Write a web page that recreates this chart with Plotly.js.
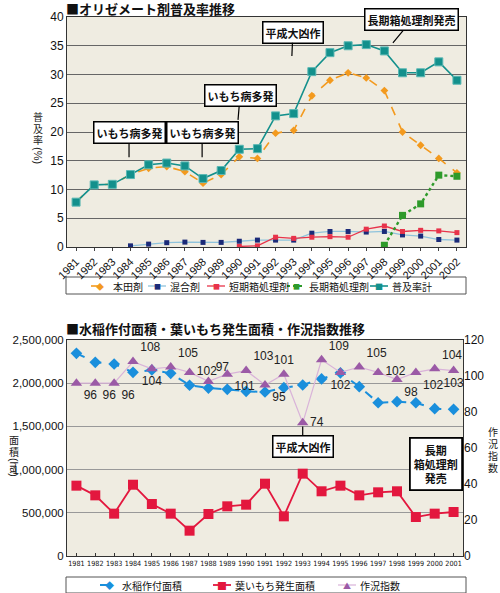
<!DOCTYPE html>
<html>
<head>
<meta charset="utf-8">
<script src="https://cdn.plot.ly/plotly-3.0.1.min.js"></script>
<style>html,body{margin:0;padding:0;background:#fff;}#chart{width:500px;height:593px;}</style>
</head>
<body>
<div id="chart"></div>
<script>
// ---- Top chart data (オリゼメート剤普及率, %) ----
const years1 = ['1981','1982','1983','1984','1985','1986','1987','1988','1989','1990','1991','1992','1993','1994','1995','1996','1997','1998','1999','2000','2001','2002'];
const honden = [7.8,10.8,10.9,12.6,13.7,14.0,13.1,11.1,12.6,15.7,15.4,19.8,20.3,26.3,29.0,30.3,29.4,27.2,20.0,17.7,15.4,12.9];
const kongou = [null,null,null,0.2,0.5,0.75,0.85,0.8,0.8,1.0,1.2,1.2,1.2,2.4,2.7,2.7,2.6,2.7,2.1,1.9,1.3,1.2];
const tanki  = [null,null,null,null,null,null,null,null,null,0.1,0.2,1.7,1.5,1.7,1.8,1.7,3.1,3.65,2.7,2.9,2.8,2.5];
const chouki = [null,null,null,null,null,null,null,null,null,null,null,null,null,null,null,null,null,0.3,5.5,7.5,12.5,12.3];
const total  = [7.8,10.8,10.9,12.6,14.3,14.6,14.1,11.9,13.3,17.0,17.1,22.8,23.2,30.5,33.8,35.0,35.2,34.1,30.3,30.3,32.2,29.0];
const names1 = ['本田剤','混合剤','短期箱処理剤','長期箱処理剤','普及率計'];

// ---- Bottom chart data ----
const years2 = ['1981','1982','1983','1984','1985','1986','1987','1988','1989','1990','1991','1992','1993','1994','1995','1996','1997','1998','1999','2000','2001'];
const plantedArea = [2346000,2242000,2222000,2126000,2153000,2114000,1976000,1944000,1929000,1906000,1898000,1948000,1979000,2049000,2120000,1960000,1774000,1786000,1774000,1705000,1698000];
const blastArea   = [814000,702000,490000,825000,602000,490000,293000,486000,575000,594000,837000,459000,953000,749000,814000,702000,737000,749000,451000,490000,509000];
const cropIndex   = [96,96,96,108,104,105,102,97,101,103,95,101,74,109,102,105,102,98,102,104,103];
const names2 = ['水稲作付面積','葉いもち発生面積','作況指数'];

// ---- styles ----
const indexLabelPos = ['bottom right','bottom right','bottom right','top right','bottom center','top right','middle right','top right','bottom right','top right','bottom right','top center','middle right','top right','bottom center','top right','middle right','bottom right','bottom right','top right','bottom center'];
const style1 = [
  {color:'#f39a1e', line:'#f39a1e', dash:'dash', width:1.6, sym:'diamond', glyph:'◆', size:6, gsize:8, mline:null},
  {color:'#1b2a78', line:'#8fc3dc', dash:'solid', width:1.3, sym:'square', glyph:'■', size:5, gsize:7, mline:null},
  {color:'#e8334a', line:'#e8334a', dash:'solid', width:1.3, sym:'square', glyph:'■', size:5, gsize:7, mline:null},
  {color:'#2e9a2a', line:'#2e9a2a', dash:'dot', width:2.4, sym:'square', glyph:'■', size:7, gsize:7, mline:null},
  {color:'#13908c', line:'#13908c', dash:'solid', width:1.6, sym:'square', glyph:'■', size:8, gsize:8, mline:{color:'#5bb8b4', width:1}}
];
const style2 = [
  {color:'#1a8fdc', line:'#1a8fdc', dash:'dash', width:2, sym:'diamond', glyph:'◆', size:9, gsize:9},
  {color:'#e3173e', line:'#e3173e', dash:'solid', width:1.8, sym:'square', glyph:'■', size:10, gsize:10},
  {color:'#9b5aa6', line:'#d9b3d9', dash:'solid', width:1.2, sym:'triangle-up', glyph:'▲', size:10, gsize:8}
];
const legend1X = [91,148,207,287,370], legend1Y = 286;
const legend2X = [100,213,338], legend2Y = 585;

const FONT = 'Liberation Sans, Arial, Noto Sans CJK JP, sans-serif';
const CJK = 'Noto Sans CJK JP';
const W = 500, H = 593;
const px = v => v / W, py = v => 1 - v / H;

const series1 = [honden, kongou, tanki, chouki, total];
const traces = series1.map((ys, i) => ({
  x: years1, y: ys, name: names1[i], type:'scatter', mode:'lines+markers', xaxis:'x', yaxis:'y', showlegend:false,
  line:{color:style1[i].line, width:style1[i].width, dash:style1[i].dash},
  marker:Object.assign({symbol:style1[i].sym, size:style1[i].size, color:style1[i].color}, style1[i].mline ? {line:style1[i].mline} : {})
}));
traces.push(
  {x: years2, y: plantedArea, name: names2[0], type:'scatter', mode:'lines+markers', xaxis:'x2', yaxis:'y2', showlegend:false,
   line:{color:style2[0].line, width:style2[0].width, dash:style2[0].dash}, marker:{symbol:style2[0].sym, size:style2[0].size, color:style2[0].color}},
  {x: years2, y: blastArea, name: names2[1], type:'scatter', mode:'lines+markers', xaxis:'x2', yaxis:'y2', showlegend:false,
   line:{color:style2[1].line, width:style2[1].width, dash:style2[1].dash}, marker:{symbol:style2[1].sym, size:style2[1].size, color:style2[1].color}},
  {x: years2, y: cropIndex, name: names2[2], type:'scatter', mode:'lines+markers+text', xaxis:'x2', yaxis:'y3', showlegend:false,
   text: cropIndex.map(String), textposition: indexLabelPos, textfont:{size:12, color:'#222'},
   line:{color:style2[2].line, width:style2[2].width, dash:style2[2].dash}, marker:{symbol:style2[2].sym, size:style2[2].size, color:style2[2].color}}
);

function callout(text, x, y, xref, yref, ax, ay) {
  return {text:'<b>'+text+'</b>', x:x, y:y, xref:xref, yref:yref, ax:ax, ay:ay,
    showarrow:true, arrowhead:0, arrowwidth:1.2, arrowcolor:'#000',
    bgcolor:'#fff', bordercolor:'#000', borderwidth:1.5, borderpad:2,
    font:{size:11, color:'#111', family:CJK}};
}
// paper-positioned text, centred on (x, y) pixels
function ptext(text, x, y, font, extra) {
  return Object.assign({text:text, xref:'paper', yref:'paper', x:px(x), y:py(y), xanchor:'center', yanchor:'middle',
    showarrow:false, font:font}, extra || {});
}
// vertical (one character per line) label
function vtext(chars, x, y0, step, size) {
  return chars.split('').map((c, i) => ptext(c, x, y0 + i*step, {size:size, color:'#222', family:CJK}, {borderpad:0}));
}

const annotations = [
  ptext('<b>■オリゼメート剤普及率推移</b>', 64, 9, {size:13, color:'#111', family:CJK}, {xanchor:'left'}),
  ptext('<b>■水稲作付面積・葉いもち発生面積・作況指数推移</b>', 64, 328, {size:13, color:'#111', family:CJK}, {xanchor:'left'}),
  ...vtext('普及率', 38, 116, 12, 10),
  ptext('(%)', 38, 155, {size:11, color:'#222'}, {textangle:90, borderpad:0}),
  ...vtext('面積', 14, 439, 12, 10),
  ptext('(ha)', 14, 467, {size:10.5, color:'#222'}, {textangle:90, borderpad:0}),
  ...vtext('作況指数', 493, 431, 12, 10),
  // top callouts
  callout('いもち病多発', 2.92, 15.6, 'x', 'y', 0, -25),
  callout('いもち病多発', 6.95, 15.6, 'x', 'y', 0, -25),
  callout('いもち病多発', 8.93, 22.1, 'x', 'y', 2, -24),
  callout('平成大凶作', 11.9, 33.2, 'x', 'y', 1, -24),
  callout('長期箱処理剤発売', 17.47, 35.5, 'x', 'y', 19, -23),
  // top value labels
  {text:'7.8', x:years1[0], y:total[0], xref:'x', yref:'y', xanchor:'left', yanchor:'middle', xshift:6, showarrow:false, font:{size:12, color:'#111'}},
  {text:'35.2', x:years1[17], y:total[17], xref:'x', yref:'y', xanchor:'left', yanchor:'middle', xshift:6, yshift:-1, showarrow:false, font:{size:12, color:'#111'}},
  {text:'29.0', x:years1[21], y:total[21], xref:'x', yref:'y', xanchor:'center', yanchor:'middle', xshift:-7, yshift:-15, showarrow:false, font:{size:12, color:'#111'}},
  // bottom callouts
  callout('平成大凶作', 12, 72, 'x2', 'y3', 0, 20),
  ptext('<b>長期<br>箱処理剤<br>発売</b>', 436, 464, {size:11, color:'#111', family:CJK},
    {bgcolor:'#fff', bordercolor:'#000', borderwidth:1.8, borderpad:3})
];

const shapes = [
  {type:'rect', xref:'paper', yref:'paper', x0:px(66), x1:px(466), y0:py(294), y1:py(277), line:{color:'#555', width:1}, fillcolor:'#fff', layer:'below'},
  {type:'rect', xref:'paper', yref:'paper', x0:px(66), x1:px(466), y0:py(593), y1:py(577), line:{color:'#555', width:1}, fillcolor:'#fff', layer:'below'}
];

function addLegend(names, styles, xs, yc) {
  names.forEach((n, i) => {
    const s = styles[i], x0 = xs[i];
    shapes.push({type:'line', xref:'paper', yref:'paper', x0:px(x0), x1:px(x0+18), y0:py(yc), y1:py(yc),
      line:{color:s.line, width:Math.min(s.width, 2), dash:s.dash}});
    annotations.push(ptext(s.glyph, x0+9, yc, {size:s.gsize, color:s.color, family:CJK}, {borderpad:0}));
    annotations.push(ptext(n, x0+21, yc, {size:10, color:'#111', family:CJK}, {xanchor:'left', borderpad:0}));
  });
}
addLegend(names1, style1, legend1X, legend1Y);
addLegend(names2, style2, legend2X, legend2Y);

const layout = {
  width:W, height:H,
  margin:{l:0, r:0, t:0, b:0, autoexpand:false},
  paper_bgcolor:'#ffffff', plot_bgcolor:'#efece1',
  font:{family:FONT, size:12, color:'#222'},
  showlegend:false,
  xaxis:{domain:[px(67), px(466)], anchor:'y', type:'category', range:[-0.5,21.5], tickangle:-45, automargin:false,
    tickfont:{size:11, color:'#111'}, ticks:'outside', ticklen:3, showline:true, linecolor:'#333', mirror:true, showgrid:false},
  yaxis:{domain:[py(247), py(17)], anchor:'x', range:[0,40], dtick:5, automargin:false, tickfont:{size:12, color:'#111'},
    showgrid:true, gridcolor:'#666', gridwidth:1, showline:true, linecolor:'#333', mirror:true, zeroline:false, ticks:''},
  xaxis2:{domain:[px(67), px(463)], anchor:'y2', type:'category', range:[-0.5,20.5], tickangle:0, automargin:false,
    tickfont:{size:7.2, color:'#111', family:'Liberation Sans Narrow, DejaVu Sans Condensed, Liberation Sans, sans-serif'},
    ticks:'inside', ticklen:3, tickcolor:'#333', showline:true, linecolor:'#333', mirror:true, showgrid:false},
  yaxis2:{domain:[py(556), py(340)], anchor:'x2', range:[0,2500000], dtick:500000, tickformat:',d', automargin:false,
    tickfont:{size:11.5, color:'#111'}, showgrid:true, gridcolor:'#999', gridwidth:1, showline:true, linecolor:'#333', mirror:true, zeroline:false},
  yaxis3:{overlaying:'y2', anchor:'x2', side:'right', range:[0,120], dtick:20, automargin:false, tickfont:{size:12, color:'#111'},
    showgrid:false, zeroline:false, showline:false, ticks:''},
  annotations:annotations,
  shapes:shapes
};

Plotly.newPlot('chart', traces, layout, {displayModeBar:false, staticPlot:true});
</script>
</body>
</html>
